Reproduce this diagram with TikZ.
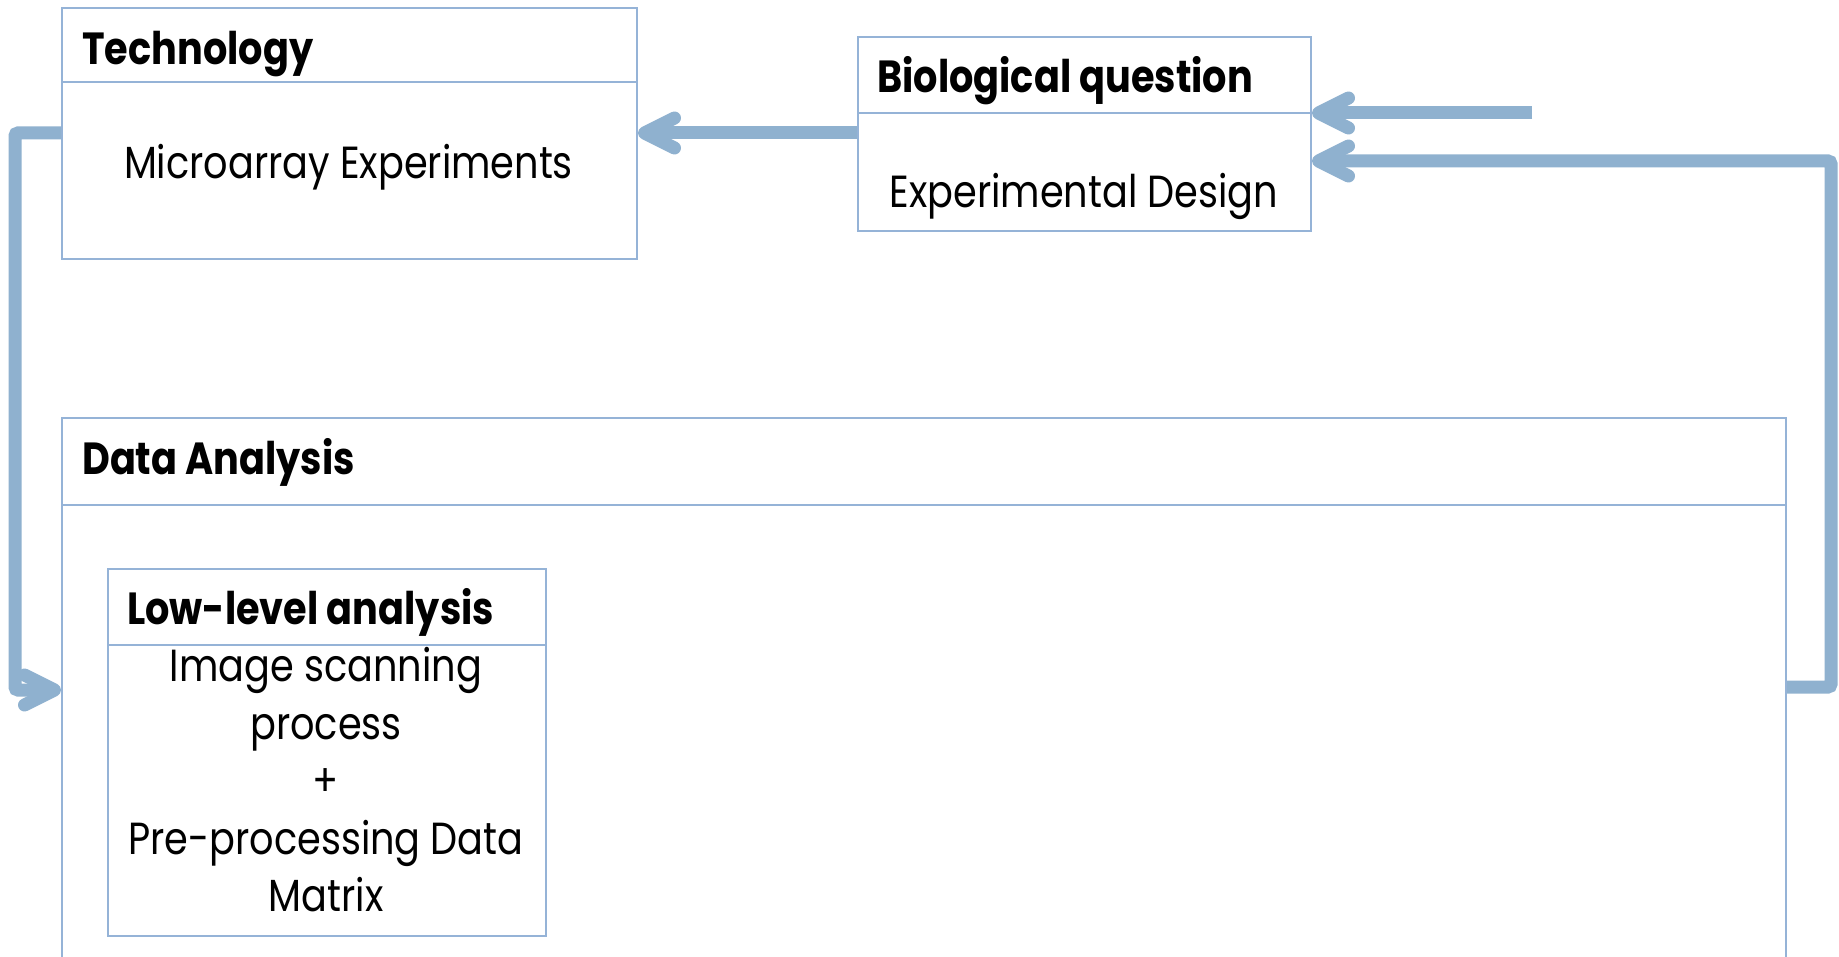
\documentclass[tikz,border=0pt]{standalone}
\usepackage{fontspec}
\setmainfont{Poppins}[FakeStretch=0.85]
\usetikzlibrary{arrows.meta}
\definecolor{frameblue}{RGB}{149,179,215}
\definecolor{flowblue}{RGB}{143,177,207}
\tikzset{
  panel/.style={draw=frameblue, line width=2pt, rectangle, anchor=north west, inner sep=0pt},
  rule/.style={draw=frameblue, line width=2pt},
  head/.style={font=\bfseries\fontsize{45}{52}\selectfont, anchor=base west, inner sep=0pt},
  body/.style={font=\fontsize{45}{57.6}\selectfont, align=center, inner sep=0pt},
  flow/.style={draw=flowblue, line width=13pt, rounded corners=3pt,
    -{Straight Barb[length=30pt,width=30pt,round]}},
}
\begin{document}
\begin{tikzpicture}[x=1pt,y=-1pt]
  \clip (0,0) rectangle (1839,957);
  \fill[white] (0,0) rectangle (1839,957);

  % Technology panel
  \node[panel, minimum width=575pt, minimum height=251pt] (tech) at (61,7) {};
  \draw[rule] (61,82) -- (636,82);
  \node[head] (techT) at (82,64.5) {Technology};
  \node[body, anchor=base] (techB) at (348.5,179) {Microarray Experiments};

  % Biological question panel
  \node[panel, minimum width=453pt, minimum height=194pt] (bio) at (857,36) {};
  \draw[rule] (857,113) -- (1310,113);
  \node[head] (bioT) at (877,92.6) {Biological question};
  \node[body, anchor=base] (bioB) at (1084,207.6) {Experimental Design};

  % Data analysis panel (runs past the lower edge)
  \node[panel, minimum width=1724pt, minimum height=600pt] (data) at (61,417) {};
  \draw[rule] (61,505) -- (1785,505);
  \node[head] (dataT) at (82,474) {Data Analysis};

  % Low-level analysis panel
  \node[panel, minimum width=438pt, minimum height=367pt] (low) at (107,568) {};
  \draw[rule] (107,645) -- (545,645);
  \node[head] (lowT) at (127,624) {Low-level analysis};
  \node[body, anchor=north] (lowB) at (326,647)
    {Image scanning\\process\\+\\Pre-processing Data\\Matrix};

  % Connectors
  \coordinate (qin) at (1532,113);
  \draw[flow] (bio.west |- 0,133) -- (tech.east |- 0,133);
  \draw[flow] (qin) -- (bio.east |- qin);
  \draw[flow] (data.east |- 0,687) -- (1831,687) -- (1831,161) -- (bio.east |- 0,161);
  \draw[flow] (tech.west |- 0,133) -- (15,133) -- (15,690) -- (data.west |- 0,690);
\end{tikzpicture}
\end{document}
